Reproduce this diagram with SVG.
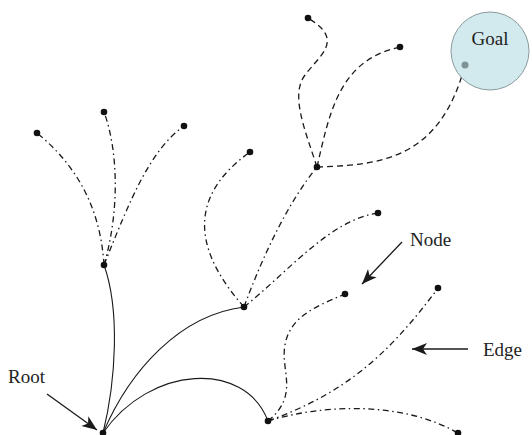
<svg xmlns="http://www.w3.org/2000/svg" width="532" height="435" viewBox="0 0 532 435">
<defs>
<style>
.e{fill:none;stroke:#1a1a1a;stroke-width:1.3}
.s{fill:none;stroke:#1a1a1a;stroke-width:1.1}
.dd{stroke-dasharray:6 3.5 1.5 3.5}
.da{stroke-dasharray:6 4}
.n{fill:#111}
.t{font-family:"Liberation Serif",serif;font-size:19px;fill:#222}
.a{fill:none;stroke:#1a1a1a;stroke-width:1.3}
</style>
<marker id="ah" markerUnits="userSpaceOnUse" markerWidth="16" markerHeight="14" refX="15" refY="6" orient="auto" viewBox="0 0 16 12">
<path d="M0,0 L15,6 L0,12 L4,6 Z" fill="#1a1a1a"/>
</marker>
</defs>
<rect width="532" height="435" fill="#fff"/>
<g id="connectors">
<path class="s" d="M103,433 C116,380 120,310 104,265"/>
<path class="s" d="M103,433 C130,370 180,315 244,307"/>
<path class="s" d="M103,433 C150,365 245,360 268,421"/>
<path class="e dd" d="M104,265 C100,200 70,160 37,133"/>
<path class="e dd" d="M104,265 C120,210 118,150 104,112"/>
<path class="e dd" d="M104,265 C130,200 150,150 184,126"/>
<path class="e dd" d="M244,307 C198,255 183,200 250,152"/>
<path class="e dd" d="M244,307 C265,250 290,200 317,167"/>
<path class="e dd" d="M244,307 C290,270 330,220 378,213"/>
<path class="e da" d="M317,167 C305,130 290,95 305,75 C320,55 345,40 308,18"/>
<path class="e da" d="M317,167 C330,110 340,60 400,47"/>
<path class="e da" d="M317,167 C380,165 440,160 465,65"/>
<path class="e dd" d="M268,421 C300,395 280,370 285,345 C290,315 320,305 345,294"/>
<path class="e dd" d="M268,421 C340,395 385,360 438,288"/>
<path class="e dd" d="M268,421 C320,405 400,400 458,433"/>
<line class="a" x1="402" y1="242" x2="362" y2="284" marker-end="url(#ah)"/>
<line class="a" x1="468" y1="349" x2="412" y2="349" marker-end="url(#ah)"/>
<line class="a" x1="47" y1="394" x2="97" y2="430" marker-end="url(#ah)"/>
</g>
<g id="goal">
<circle cx="490" cy="51" r="39" fill="#d2eaee" stroke="#8a9a9c" stroke-width="1"/>
<text class="t" x="490" y="45" text-anchor="middle" font-size="20">Goal</text>
<circle cx="465" cy="65" r="3.5" fill="#7f9395"/>
</g>
<g id="root"><circle class="n" cx="103" cy="433" r="3.3"/></g>
<g id="nodeA"><circle class="n" cx="104" cy="265" r="3.3"/></g>
<g id="nodeA1"><circle class="n" cx="37" cy="133" r="3.3"/></g>
<g id="nodeA2"><circle class="n" cx="104" cy="112" r="3.3"/></g>
<g id="nodeA3"><circle class="n" cx="184" cy="126" r="3.3"/></g>
<g id="nodeB"><circle class="n" cx="244" cy="307" r="3.3"/></g>
<g id="nodeB1"><circle class="n" cx="250" cy="152" r="3.3"/></g>
<g id="nodeC"><circle class="n" cx="317" cy="167" r="3.3"/></g>
<g id="nodeB3"><circle class="n" cx="378" cy="213" r="3.3"/></g>
<g id="nodeC1"><circle class="n" cx="308" cy="18" r="3.3"/></g>
<g id="nodeC2"><circle class="n" cx="400" cy="47" r="3.3"/></g>
<g id="nodeD"><circle class="n" cx="268" cy="421" r="3.3"/></g>
<g id="nodeD1"><circle class="n" cx="345" cy="294" r="3.3"/></g>
<g id="nodeD2"><circle class="n" cx="438" cy="288" r="3.3"/></g>
<g id="nodeD3"><circle class="n" cx="458" cy="433" r="3.3"/></g>
<g id="labels">
<text class="t" x="410" y="246">Node</text>
<text class="t" x="483" y="356">Edge</text>
<text class="t" x="8" y="383">Root</text>
</g>
</svg>
